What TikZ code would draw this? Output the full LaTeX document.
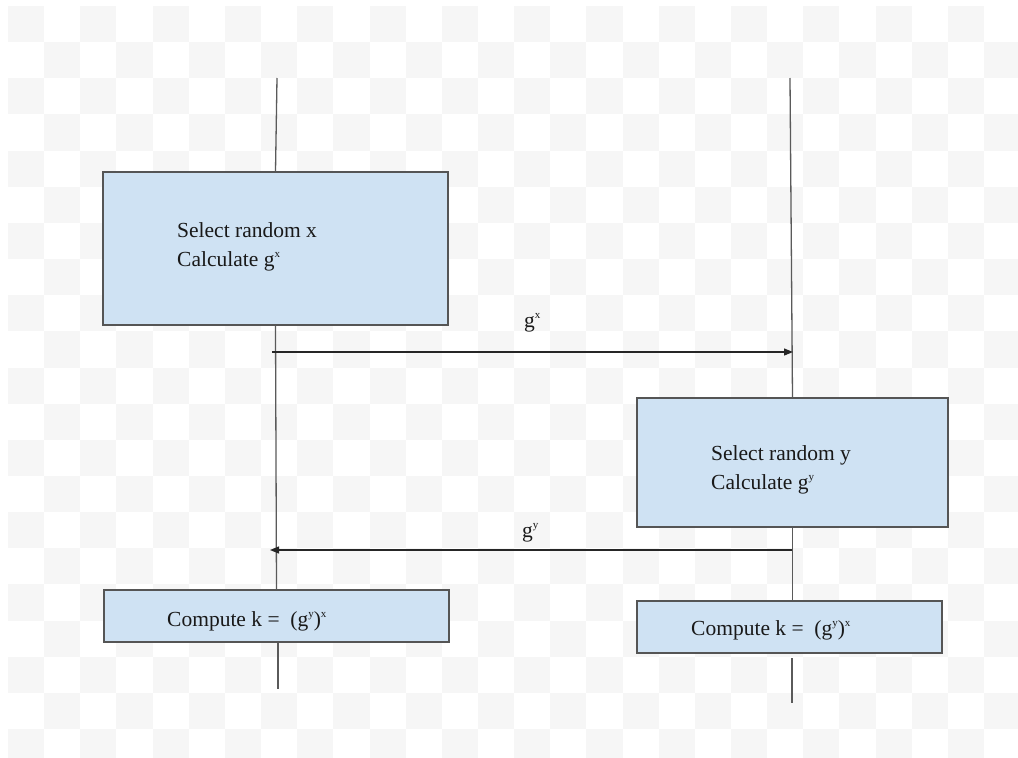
\documentclass[tikz,border=0pt]{standalone}
\usepackage{fontspec}
\setmainfont{Liberation Serif}
\usetikzlibrary{arrows.meta}
\definecolor{boxfill}{HTML}{CFE2F3}
\definecolor{checker}{HTML}{F6F6F6}
\definecolor{boxline}{HTML}{555555}
\definecolor{lifeline}{HTML}{5A5A5A}
\newcommand{\supr}[1]{\raisebox{0.85ex}{\fontsize{11}{11}\selectfont #1}}
\begin{document}
\begin{tikzpicture}[x=1pt,y=-1pt, font=\fontsize{21.5}{29}\selectfont,
  box/.style={draw=boxline, fill=boxfill, line width=1.2pt, inner sep=0pt},
  txt/.style={align=left, anchor=base west, inner sep=0pt, text=black!90},
  life/.style={draw=lifeline, line width=1.3pt},
  msg/.style={draw=black!85, line width=1.2pt, -{Triangle[length=9pt,width=7pt]}}]
\useasboundingbox (0,0) rectangle (1018,758);
\fill[white] (0,0) rectangle (1018,758);
\begin{scope}
  \clip (8,6) rectangle (1018,758);
  \foreach \i in {0,...,28}{
    \foreach \j in {0,2,...,20}{
      \pgfmathtruncatemacro{\jj}{\j+mod(\i,2)}
      \fill[checker] ({8+\i*36.15},{6+\jj*36.15}) rectangle +(36.15,36.15);
    }
  }
\end{scope}

% boxes
\node[box, minimum width=345pt, minimum height=153pt] (box1) at (275.5,248.5) {};
\node[box, minimum width=311pt, minimum height=129pt] (box2) at (792.5,462.5) {};
\node[box, minimum width=345pt, minimum height=52pt] (box3) at (276.5,616) {};
\node[box, minimum width=305pt, minimum height=52pt] (box4) at (789.5,627) {};

% texts (base anchor = baseline of the last line)
\node[txt] (t1) at (177,266) {Select random x\\Calculate g\supr{x}};
\node[txt] (t2) at (711,489) {Select random y\\Calculate g\supr{y}};
\node[txt] (t3) at (167,626) {Compute k =\ \ (g\supr{y})\supr{x}};
\node[txt] (t4) at (691,635) {Compute k =\ \ (g\supr{y})\supr{x}};

% lifelines
\coordinate (ltop) at (277,78);
\coordinate (lbot) at (278,689);
\coordinate (rtop) at (790,78);
\coordinate (rmid) at (792,658);
\coordinate (rbot) at (792,703);
\draw[life] (ltop) -- (box1.north);
\draw[life] (box1.south) -- (box3.north);
\draw[life] (lbot |- box3.south) -- (lbot);
\draw[life] (rtop) -- (box2.north);
\draw[life] (box2.south) -- (box2.south |- box4.north);
\draw[life] (rmid) -- (rbot);

% messages
\coordinate (m1s) at (272,352);
\coordinate (m1e) at (793,352);
\coordinate (m2s) at (792,550);
\coordinate (m2e) at (270,550);
\draw[msg] (m1s) -- (m1e);
\draw[msg] (m2s) -- (m2e);
\node[txt] (l1) at (524,327) {g\supr{x}};
\node[txt] (l2) at (522,537) {g\supr{y}};
\end{tikzpicture}
\end{document}
